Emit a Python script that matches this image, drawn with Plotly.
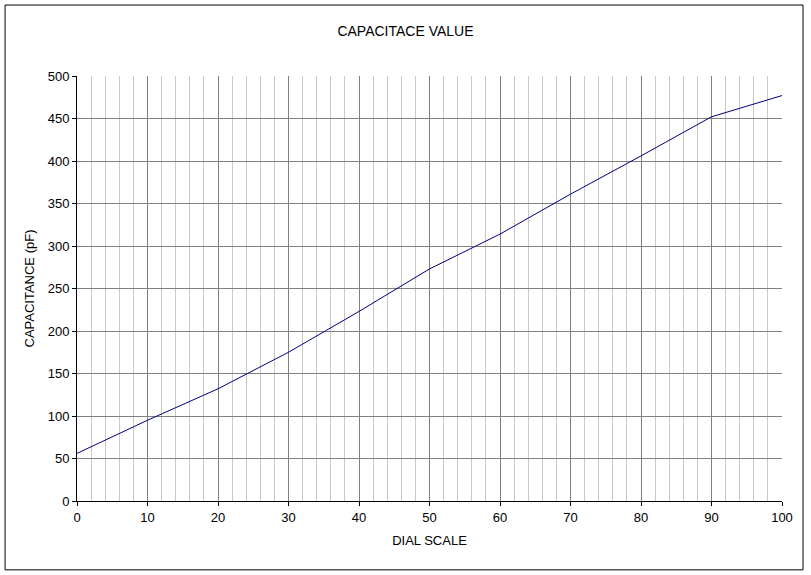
import plotly.graph_objects as go

# Dial scale positions and measured capacitance (pF)
dial = [0, 10, 20, 30, 40, 50, 60, 70, 80, 90, 100]
capacitance = [56, 95, 132, 175, 223, 273, 314, 361, 406, 452, 477]

x_ticks = list(range(0, 101, 10))
y_ticks = list(range(0, 501, 50))

fig = go.Figure()

fig.add_trace(go.Scatter(
    x=dial,
    y=capacitance,
    mode='lines',
    line=dict(color='#000080', width=1),
    showlegend=False,
))

# outer chart border, like the Excel chart area
fig.add_shape(type='rect', xref='paper', yref='paper',
              x0=-0.102, x1=1.0298, y0=-0.162, y1=1.167,
              line=dict(color='black', width=1), layer='below')

fig.update_layout(
    width=811,
    height=575,
    margin=dict(l=77, r=29, t=76, b=74),
    paper_bgcolor='white',
    plot_bgcolor='white',
    font=dict(family='Liberation Sans, Arial, sans-serif', size=13, color='black'),
    title=dict(text='CAPACITACE VALUE', x=0.5, xanchor='center',
               y=0.946, yanchor='middle', font=dict(size=14)),
)

fig.update_xaxes(
    range=[0, 100],
    tickvals=x_ticks,
    showline=True, linecolor='black', linewidth=1,
    ticks='outside', ticklen=4, tickcolor='black',
    showgrid=True, gridcolor='#808080', gridwidth=1,
    minor=dict(dtick=2, showgrid=True, gridcolor='#c8c8c8', gridwidth=1),
    zeroline=False,
    title=dict(text='DIAL SCALE', standoff=12, font=dict(size=13)),
)

fig.update_yaxes(
    range=[0, 500],
    tickvals=y_ticks,
    showline=True, linecolor='black', linewidth=1,
    ticks='outside', ticklen=4, tickcolor='black',
    showgrid=True, gridcolor='#808080', gridwidth=1,
    zeroline=False,
    title=dict(text='CAPACITANCE (pF)', standoff=10, font=dict(size=13)),
)

# drop the default page margin so the figure sits at the window corner
fig.write_html('out.html', config={'displayModeBar': False},
               post_script="document.body.style.margin='0';")
